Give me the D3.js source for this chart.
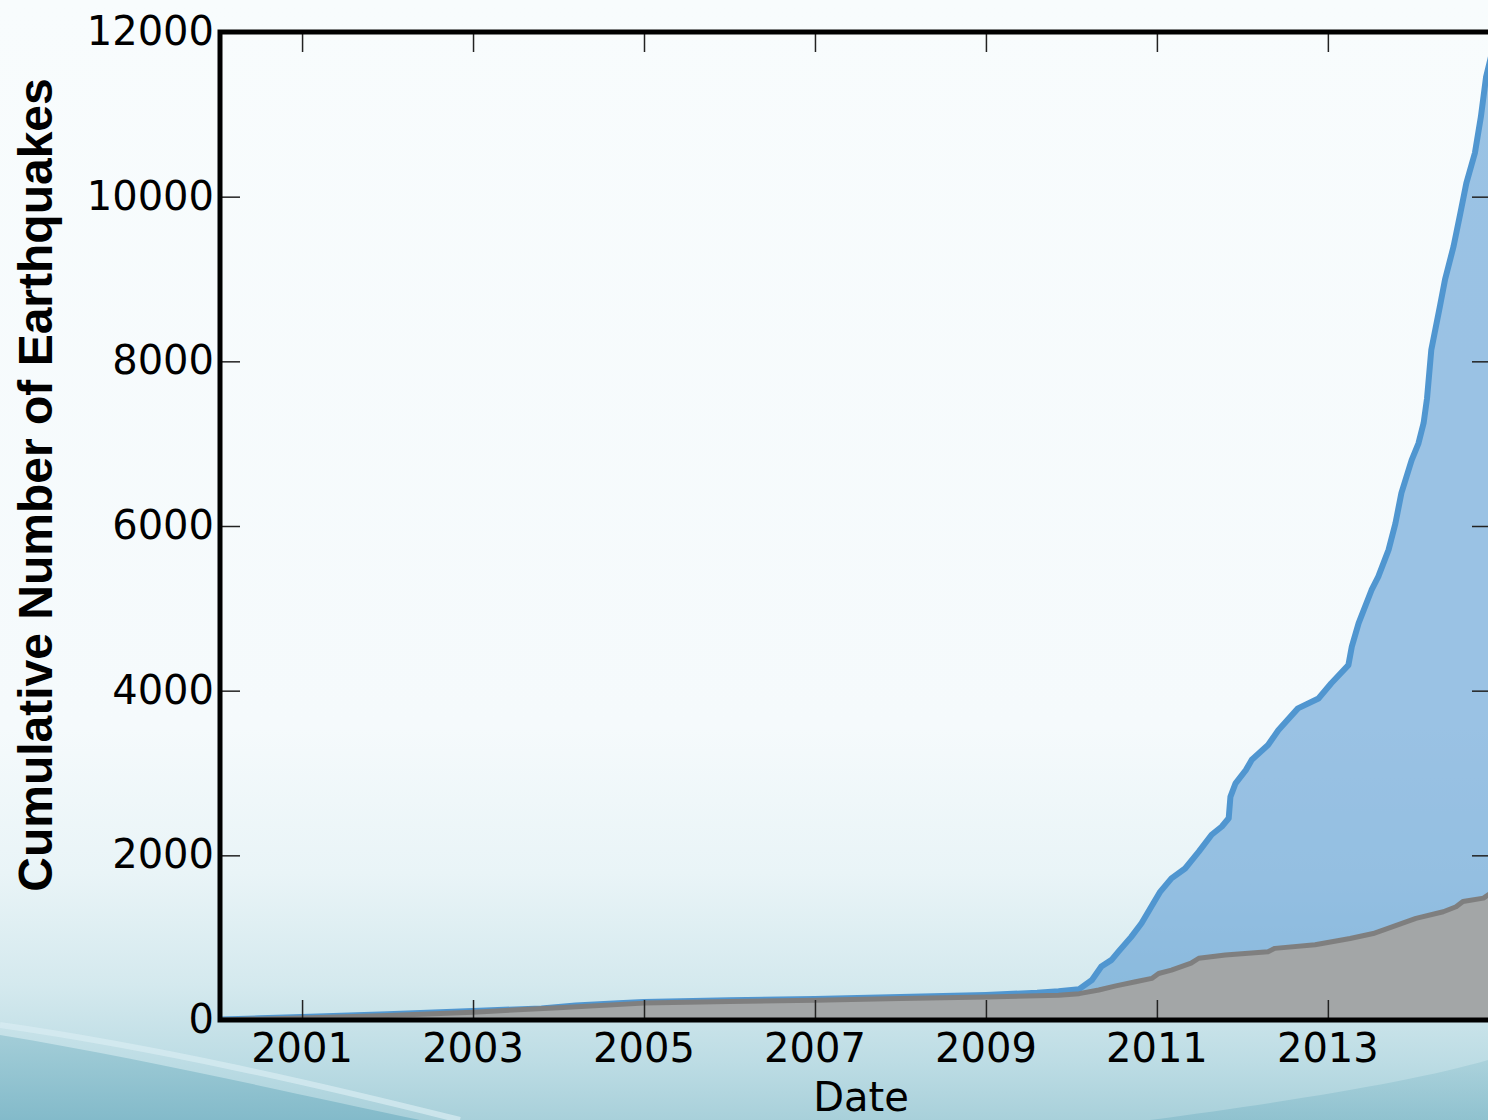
<!DOCTYPE html>
<html>
<head>
<meta charset="utf-8">
<script src="https://cdn.jsdelivr.net/npm/d3@7"></script>
<style>
  body { margin: 0; overflow: hidden; }
  svg { display: block; }
  .tick-label { font-family: 'DejaVu Sans', sans-serif; font-size: 40px; fill: #000; }
</style>
</head>
<body>
<div id="chart"></div>
<script>
// all events, cumulative (blue)
const allYears = [2000.04, 2000.5, 2001.0, 2002.0, 2003.0, 2003.8, 2004.2, 2004.7, 2005.0, 2006.0,
  2007.0, 2008.0, 2009.0, 2009.6, 2009.85, 2010.09, 2010.24, 2010.35, 2010.47, 2010.55,
  2010.70, 2010.82, 2010.96, 2011.04, 2011.17, 2011.33, 2011.49, 2011.64, 2011.76, 2011.84,
  2011.86, 2011.92, 2012.04, 2012.11, 2012.30, 2012.42, 2012.65, 2012.89, 2013.04, 2013.24,
  2013.28, 2013.36, 2013.51, 2013.59, 2013.71, 2013.79, 2013.86, 2013.98, 2014.06, 2014.12,
  2014.16, 2014.21, 2014.31, 2014.37, 2014.47, 2014.55, 2014.62, 2014.72, 2014.79, 2014.85, 2014.92];
const allCounts = [5, 20, 35, 70, 110, 140, 175, 205, 220, 240,
  255, 280, 305, 330, 350, 375, 485, 650, 730, 830,
  1010, 1175, 1420, 1560, 1720, 1840, 2045, 2250, 2350, 2450,
  2710, 2875, 3035, 3160, 3340, 3520, 3785, 3905, 4090, 4310,
  4535, 4820, 5220, 5385, 5710, 6030, 6400, 6800, 7005, 7250,
  7550, 8140, 8665, 8990, 9395, 9800, 10165, 10530, 10970, 11450, 11750];

// subset, cumulative (gray)
const subYears = [2000.04, 2001.0, 2002.0, 2003.0, 2004.0, 2005.0, 2006.0, 2007.0, 2008.0, 2009.0,
  2009.85, 2010.09, 2010.32, 2010.52, 2010.75, 2010.94, 2011.02, 2011.17, 2011.40, 2011.49,
  2011.80, 2012.30, 2012.38, 2012.85, 2013.26, 2013.53, 2013.76, 2014.03, 2014.35, 2014.50,
  2014.58, 2014.82, 2014.92];
const subCounts = [0, 25, 55, 95, 150, 205, 225, 240, 260, 280,
  300, 320, 365, 415, 465, 505, 565, 605, 690, 750,
  790, 830, 870, 915, 990, 1050, 1135, 1235, 1315, 1375,
  1440, 1480, 1550];

const xTicks = [2001, 2003, 2005, 2007, 2009, 2011, 2013];
const yTicks = [0, 2000, 4000, 6000, 8000, 10000, 12000];

const W = 1488, H = 1120;
const margin = { top: 32, left: 220, right: -4, bottom: 100 };
const width = W - margin.left - margin.right;
const height = H - margin.top - margin.bottom;

const svg = d3.select('#chart').append('svg').attr('width', W).attr('height', H);
const defs = svg.append('defs');

// background gradient
const bg = defs.append('linearGradient').attr('id', 'bg')
  .attr('x1', 0).attr('y1', 0).attr('x2', 0).attr('y2', 1);
[[0, '#f8fcfd'], [0.65, '#f5fafc'], [0.78, '#e9f4f7'], [0.88, '#d4e9ee'], [0.95, '#bcdce4'], [1, '#a8d0da']]
  .forEach(([o, c]) => bg.append('stop').attr('offset', o).attr('stop-color', c));
svg.append('rect').attr('width', W).attr('height', H).attr('fill', 'url(#bg)');

const wave = defs.append('linearGradient').attr('id', 'wave')
  .attr('x1', 0).attr('y1', 0).attr('x2', 0).attr('y2', 1);
[[0, '#9fcbd6'], [1, '#7fb8c8']]
  .forEach(([o, c]) => wave.append('stop').attr('offset', o).attr('stop-color', c));
svg.append('path')
  .attr('d', 'M0,1035 C150,1060 300,1095 420,1120 L0,1120 Z')
  .attr('fill', 'url(#wave)').attr('opacity', 0.9);
svg.append('path')
  .attr('d', 'M0,1025 C160,1048 320,1085 460,1120')
  .attr('fill', 'none').attr('stroke', '#d8edf2').attr('stroke-width', 6).attr('opacity', 0.7);
svg.append('path')
  .attr('d', 'M1150,1120 C1300,1100 1420,1080 1488,1060 L1488,1120 Z')
  .attr('fill', 'url(#wave)').attr('opacity', 0.6);

const g = svg.append('g').attr('transform', `translate(${margin.left},${margin.top})`);

const x = d3.scaleLinear().domain([2000.04, 2014.92]).range([0, width]);
const y = d3.scaleLinear().domain([0, 12000]).range([height, 0]);

defs.append('clipPath').attr('id', 'plot')
  .append('rect').attr('width', width).attr('height', height);

const plot = g.append('g').attr('clip-path', 'url(#plot)');

const allData = allYears.map((t, i) => ({ t, v: allCounts[i] }));
const subData = subYears.map((t, i) => ({ t, v: subCounts[i] }));

const area = d3.area().x(d => x(d.t)).y0(height).y1(d => y(d.v));
const line = d3.line().x(d => x(d.t)).y(d => y(d.v));

plot.append('path').datum(allData).attr('d', area)
  .attr('fill', '#4f94cf').attr('fill-opacity', 0.55);
plot.append('path').datum(allData).attr('d', line)
  .attr('fill', 'none').attr('stroke', '#5096d0').attr('stroke-width', 6)
  .attr('stroke-linejoin', 'round').attr('stroke-linecap', 'round');

plot.append('path').datum(subData).attr('d', area)
  .attr('fill', '#a3a6a7');
plot.append('path').datum(subData).attr('d', line)
  .attr('fill', 'none').attr('stroke', '#7f7f7f').attr('stroke-width', 5)
  .attr('stroke-linejoin', 'round').attr('stroke-linecap', 'round');

// inward ticks on all four sides
const tickLen = 20;
const xAxisB = d3.axisBottom(x).tickValues(xTicks).tickSize(-tickLen).tickFormat('');
const xAxisT = d3.axisTop(x).tickValues(xTicks).tickSize(-tickLen).tickFormat('');
const yAxisL = d3.axisLeft(y).tickValues(yTicks).tickSize(-tickLen).tickFormat('');
const yAxisR = d3.axisRight(y).tickValues(yTicks).tickSize(-tickLen).tickFormat('');

g.append('g').attr('transform', `translate(0,${height})`).call(xAxisB);
g.append('g').call(xAxisT);
g.append('g').call(yAxisL);
g.append('g').attr('transform', `translate(${width},0)`).call(yAxisR);
g.selectAll('.domain').remove();
g.selectAll('.tick line').attr('stroke', '#222').attr('stroke-width', 1.5);

// spines
g.append('rect').attr('width', width).attr('height', height)
  .attr('fill', 'none').attr('stroke', '#000').attr('stroke-width', 5);

// tick labels
g.selectAll('.xlab').data(xTicks).join('text')
  .attr('class', 'tick-label')
  .attr('x', d => x(d)).attr('y', height + 42)
  .attr('text-anchor', 'middle')
  .text(d => d);

g.selectAll('.ylab').data(yTicks).join('text')
  .attr('class', 'tick-label')
  .attr('x', -6).attr('y', d => y(d) + 13)
  .attr('text-anchor', 'end')
  .text(d => d);

// axis titles
svg.append('text')
  .attr('x', 861).attr('y', 1111)
  .attr('text-anchor', 'middle')
  .style('font-family', "'DejaVu Sans', sans-serif").style('font-size', '40px')
  .text('Date');

svg.append('text')
  .attr('transform', 'translate(52,485) rotate(-90)')
  .attr('text-anchor', 'middle')
  .style('font-family', "'Liberation Sans', Arial, sans-serif").style('font-size', '48px')
  .style('font-weight', 'bold')
  .text('Cumulative Number of Earthquakes');
</script>
</body>
</html>
